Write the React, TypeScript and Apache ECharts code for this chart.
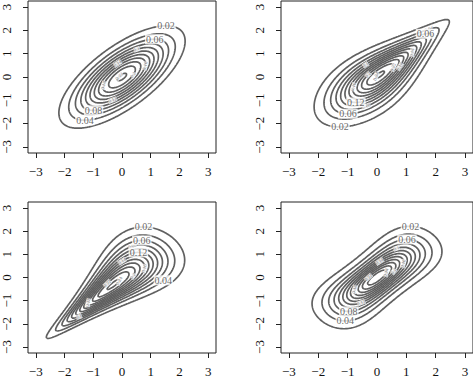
import React, { useEffect, useRef } from 'react';
import * as echarts from 'echarts';

// Tick values shown on every axis
const TICKS = [-3, -2, -1, 0, 1, 2, 3];
// Contour levels (density values)
const LEVELS = [0.02, 0.04, 0.06, 0.08, 0.1, 0.12, 0.14, 0.16, 0.18, 0.2, 0.22, 0.24, 0.26];
// Four panels: bivariate densities with standard normal margins and a copula each
const COPULAS = ['gauss', 'gumbel', 'clayton', 'frank'];
const COPULA_PARAMS = [0.7, 2, 2, 5.736];
// Readable contour labels per panel: [level, side] (side 'up' / 'down')
const BIG_LABELS: [number, string][][] = [
  [[0.02, 'up'], [0.04, 'down'], [0.06, 'up'], [0.08, 'down']],
  [[0.02, 'down'], [0.06, 'down'], [0.06, 'up'], [0.12, 'down']],
  [[0.02, 'up'], [0.06, 'up'], [0.12, 'up'], [0.04, 'down']],
  [[0.02, 'up'], [0.04, 'down'], [0.06, 'up'], [0.08, 'down']],
];
const LABEL_UP = [[0, 1], [-0.3, 1], [0, 1], [0, 1]];
const LABEL_DOWN = [[0, -1], [0, -1], [1, -1], [0, -1]];
// Shifts along the long axis for the small inner labels
const SMALL_SHIFTS = [0.45, -0.35, 0.1, 0.7, -0.6, 0.3, -0.1, 0.55, -0.45, 0.2];

const X_RANGE = [-3.27, 3.27];
const Y_RANGE = [-3.26, 3.26];

const GRIDS = [
  { left: 24, top: 1, width: 192, height: 152 },
  { left: 281, top: 1, width: 192, height: 152 },
  { left: 24, top: 202, width: 192, height: 151 },
  { left: 281, top: 202, width: 192, height: 151 },
];

function erfc(x: number): number {
  const z = Math.abs(x);
  const t = 1 / (1 + 0.5 * z);
  const r =
    t *
    Math.exp(
      -z * z - 1.26551223 +
        t * (1.00002368 + t * (0.37409196 + t * (0.09678418 + t * (-0.18628806 + t * (0.27886807 + t * (-1.13520398 + t * (1.48851587 + t * (-0.82215223 + t * 0.17087277))))))))
    );
  return x >= 0 ? r : 2 - r;
}
function pdf(x: number) {
  return Math.exp(-0.5 * x * x) / Math.sqrt(2 * Math.PI);
}
function cdf(x: number): [number, number] {
  if (x < 0) {
    const u = 0.5 * erfc(-x / Math.SQRT2);
    return [u, Math.log(u)];
  }
  const q = 0.5 * erfc(x / Math.SQRT2);
  return [1 - q, Math.log1p(-q)];
}

function density(kind: string, p: number, x: number, y: number): number {
  if (kind === 'gauss') {
    const q = (x * x - 2 * p * x * y + y * y) / (1 - p * p);
    return Math.exp(-q / 2) / (2 * Math.PI * Math.sqrt(1 - p * p));
  }
  const fx = pdf(x), fy = pdf(y);
  const [u, lu] = cdf(x);
  const [v, lv] = cdf(y);
  if (kind === 'gumbel') {
    const a = -lu, b = -lv;
    const S = Math.pow(a, p) + Math.pow(b, p);
    const w = Math.pow(S, 1 / p);
    const c = (Math.exp(-w) * Math.pow(a * b, p - 1)) / (u * v) * Math.pow(S, 2 / p - 2) * (1 + (p - 1) / w);
    return c * fx * fy;
  }
  if (kind === 'clayton') {
    const lc = Math.log(1 + p) + (-p - 1) * (lu + lv) + (-2 - 1 / p) * Math.log(Math.exp(-p * lu) + Math.exp(-p * lv) - 1);
    return Math.exp(lc) * fx * fy;
  }
  const e = 1 - Math.exp(-p);
  const den = e - (1 - Math.exp(-p * u)) * (1 - Math.exp(-p * v));
  return ((p * e * Math.exp(-p * (u + v))) / (den * den)) * fx * fy;
}

function contourLines(z: number[][], xs: number[], ys: number[], L: number): number[][][] {
  const segs: [string, string][] = [];
  const pts = new Map<string, [number, number]>();
  const nx = xs.length, ny = ys.length;
  const hKey = (i: number, j: number) => {
    const k = 'h' + i + ',' + j;
    if (!pts.has(k)) {
      const v0 = z[j][i], v1 = z[j][i + 1];
      const t = (L - v0) / (v1 - v0);
      pts.set(k, [xs[i] + t * (xs[i + 1] - xs[i]), ys[j]]);
    }
    return k;
  };
  const vKey = (i: number, j: number) => {
    const k = 'v' + i + ',' + j;
    if (!pts.has(k)) {
      const v0 = z[j][i], v1 = z[j + 1][i];
      const t = (L - v0) / (v1 - v0);
      pts.set(k, [xs[i], ys[j] + t * (ys[j + 1] - ys[j])]);
    }
    return k;
  };
  for (let j = 0; j < ny - 1; j++) {
    for (let i = 0; i < nx - 1; i++) {
      const v0 = z[j][i], v1 = z[j][i + 1], v2 = z[j + 1][i + 1], v3 = z[j + 1][i];
      const b0 = v0 > L, b1 = v1 > L, b2 = v2 > L, b3 = v3 > L;
      const idx = (b0 ? 1 : 0) | (b1 ? 2 : 0) | (b2 ? 4 : 0) | (b3 ? 8 : 0);
      if (idx === 0 || idx === 15) continue;
      const B = () => hKey(i, j), T = () => hKey(i, j + 1), Lf = () => vKey(i, j), R = () => vKey(i + 1, j);
      if (idx === 5 || idx === 10) {
        const c = (v0 + v1 + v2 + v3) / 4 > L;
        if ((idx === 5 && c) || (idx === 10 && !c)) {
          segs.push([B(), R()]);
          segs.push([T(), Lf()]);
        } else {
          segs.push([B(), Lf()]);
          segs.push([R(), T()]);
        }
        continue;
      }
      const e: string[] = [];
      if (b0 !== b1) e.push(B());
      if (b1 !== b2) e.push(R());
      if (b2 !== b3) e.push(T());
      if (b3 !== b0) e.push(Lf());
      if (e.length === 2) segs.push([e[0], e[1]]);
    }
  }
  const adj = new Map<string, number[]>();
  segs.forEach((s, n) => {
    for (const k of s) {
      if (!adj.has(k)) adj.set(k, []);
      adj.get(k)!.push(n);
    }
  });
  const used = new Array(segs.length).fill(false);
  const lines: number[][][] = [];
  for (let s = 0; s < segs.length; s++) {
    if (used[s]) continue;
    used[s] = true;
    const chain = [segs[s][0], segs[s][1]];
    let cur = segs[s][1];
    for (;;) {
      const nxt = (adj.get(cur) || []).find((t) => !used[t]);
      if (nxt === undefined) break;
      used[nxt] = true;
      const [p, q] = segs[nxt];
      cur = p === cur ? q : p;
      chain.push(cur);
    }
    cur = segs[s][0];
    for (;;) {
      const nxt = (adj.get(cur) || []).find((t) => !used[t]);
      if (nxt === undefined) break;
      used[nxt] = true;
      const [p, q] = segs[nxt];
      cur = p === cur ? q : p;
      chain.unshift(cur);
    }
    lines.push(chain.map((k) => pts.get(k)!));
  }
  return lines;
}

const fmtTick = (v: number) => (v < 0 ? '\u2212' + Math.abs(v) : String(v));
const fmtLevel = (v: number) => String(parseFloat(v.toFixed(2)));

function pickPoint(line: number[][], d: number[], pxX: number, pxY: number) {
  let bi = 0, bv = -Infinity;
  line.forEach((pt, i) => {
    const s = pt[0] * d[0] + pt[1] * d[1];
    if (s > bv) { bv = s; bi = i; }
  });
  const a = line[Math.max(0, bi - 2)], b = line[Math.min(line.length - 1, bi + 2)];
  let ang = (Math.atan2((b[1] - a[1]) * pxY, (b[0] - a[0]) * pxX) * 180) / Math.PI;
  if (ang > 90) ang -= 180;
  if (ang < -90) ang += 180;
  return { pt: line[bi], ang };
}

function buildOption() {
  const N = 221;
  const xs: number[] = [];
  for (let i = 0; i < N; i++) xs.push(-3.3 + (6.6 * i) / (N - 1));
  const series: any[] = [];
  const grids: any[] = [];
  const xAxes: any[] = [];
  const yAxes: any[] = [];
  const font = 'Liberation Serif';
  COPULAS.forEach((kind, k) => {
    const p = COPULA_PARAMS[k];
    const g = GRIDS[k];
    const pxX = g.width / (X_RANGE[1] - X_RANGE[0]);
    const pxY = g.height / (Y_RANGE[1] - Y_RANGE[0]);
    const z: number[][] = xs.map((y) => xs.map((x) => density(kind, p, x, y)));
    grids.push({ ...g, show: true, borderColor: '#222', borderWidth: 1, backgroundColor: 'transparent' });
    xAxes.push({
      gridIndex: k, type: 'value', min: X_RANGE[0], max: X_RANGE[1],
      axisLine: { show: false, onZero: false },
      splitLine: { show: false },
      axisTick: { show: true, customValues: TICKS, length: 5, lineStyle: { color: '#222', width: 1 } },
      axisLabel: { customValues: TICKS, formatter: fmtTick, fontSize: 13, fontFamily: font, color: '#111', margin: 12 },
    });
    yAxes.push({
      gridIndex: k, type: 'value', min: Y_RANGE[0], max: Y_RANGE[1],
      axisLine: { show: false, onZero: false },
      splitLine: { show: false },
      axisTick: { show: true, customValues: TICKS, length: 5, lineStyle: { color: '#222', width: 1 } },
      axisLabel: { customValues: TICKS, formatter: fmtTick, fontSize: 13, fontFamily: font, color: '#111', margin: 15, rotate: 90 },
    });
    const bigLabels: any[] = [];
    const smallLabels: any[] = [];
    let smallCount = 0;
    LEVELS.forEach((L) => {
      const lines = contourLines(z, xs, xs, L);
      if (!lines.length) return;
      lines.forEach((ln) => {
        series.push({
          type: 'line', xAxisIndex: k, yAxisIndex: k, data: ln, showSymbol: false, symbol: 'none',
          lineStyle: { color: '#606060', width: 1.7 }, silent: true, z: 2, animation: false,
        });
      });
      let longest = lines[0];
      lines.forEach((ln) => { if (ln.length > longest.length) longest = ln; });
      if (longest.length < 10) return;
      const bigs = BIG_LABELS[k].filter((b) => Math.abs(b[0] - L) < 1e-9);
      if (bigs.length) {
        bigs.forEach((b) => {
          const d = b[1] === 'up' ? LABEL_UP[k] : LABEL_DOWN[k];
          const r = pickPoint(longest, d, pxX, pxY);
          bigLabels.push({ value: r.pt, name: fmtLevel(L) });
        });
      } else {
        const s = SMALL_SHIFTS[smallCount % SMALL_SHIFTS.length];
        const d = smallCount % 2 === 0 ? [-1 + s, 1 + s] : [1 + s, -1 + s];
        smallCount++;
        const r = pickPoint(longest, d, pxX, pxY);
        smallLabels.push({ value: r.pt, name: fmtLevel(L), label: { rotate: r.ang } });
      }
    });
    series.push({
      type: 'scatter', xAxisIndex: k, yAxisIndex: k, data: bigLabels, symbolSize: 1,
      itemStyle: { color: 'rgba(0,0,0,0)' }, silent: true, z: 5,
      label: {
        show: true, position: 'inside', formatter: '{b}', fontSize: 10, fontFamily: font,
        color: '#444', backgroundColor: '#fff', padding: [0, 1],
      },
    });
    series.push({
      type: 'scatter', xAxisIndex: k, yAxisIndex: k, data: smallLabels, symbolSize: 1,
      itemStyle: { color: 'rgba(0,0,0,0)' }, silent: true, z: 4,
      label: {
        show: true, position: 'inside', formatter: '{b}', fontSize: 5, fontFamily: font,
        color: '#555', backgroundColor: '#fff', padding: [0, 0],
      },
    });
  });
  return { animation: false, backgroundColor: '#fff', grid: grids, xAxis: xAxes, yAxis: yAxes, series };
}

export default function App() {
  const ref = useRef<HTMLDivElement>(null);
  useEffect(() => {
    if (!ref.current) return;
    const chart = echarts.init(ref.current, undefined, { renderer: 'svg' });
    chart.setOption(buildOption() as any);
    return () => chart.dispose();
  }, []);
  return <div ref={ref} style={{ position: 'absolute', left: 0, top: 0, width: 473, height: 379 }} />;
}
